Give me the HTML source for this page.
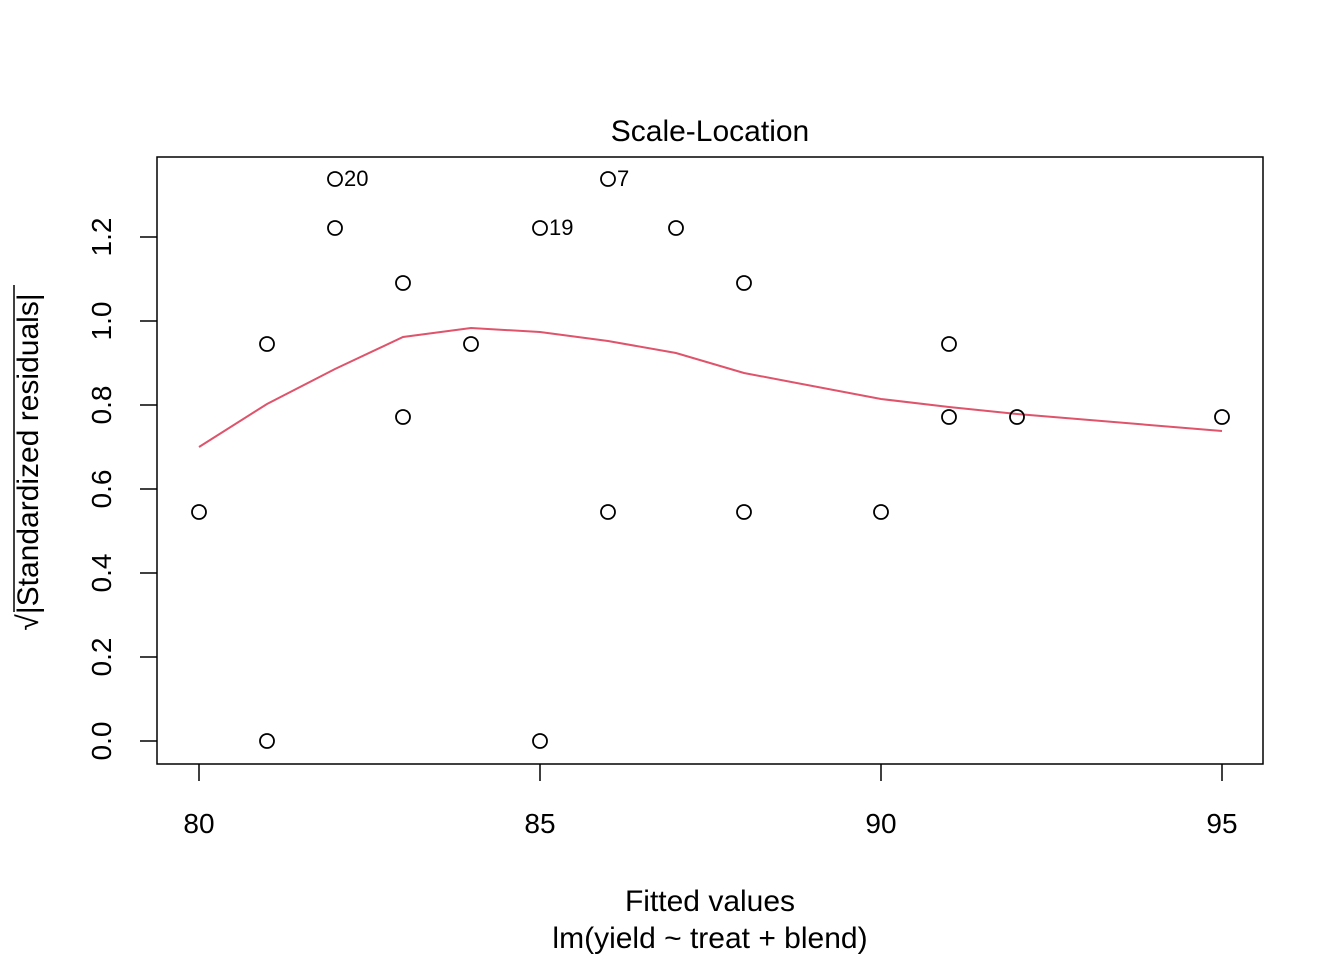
<!DOCTYPE html>
<html><head><meta charset="utf-8"><style>
html,body{margin:0;padding:0;background:#fff;}
svg{display:block;font-family:"Liberation Sans",Arial,sans-serif;}
</style></head><body>
<svg width="1344" height="960" viewBox="0 0 1344 960" xmlns="http://www.w3.org/2000/svg">
<rect x="157" y="157" width="1106" height="607" fill="none" stroke="#000" stroke-width="1.5"/>
<text x="710" y="141" font-size="30" text-anchor="middle">Scale-Location</text>
<g stroke="#000" stroke-width="1.5">
<line x1="199" y1="764" x2="199" y2="781"/>
<line x1="540" y1="764" x2="540" y2="781"/>
<line x1="881" y1="764" x2="881" y2="781"/>
<line x1="1222" y1="764" x2="1222" y2="781"/>
<line x1="157" y1="741" x2="140" y2="741"/>
<line x1="157" y1="657" x2="140" y2="657"/>
<line x1="157" y1="573" x2="140" y2="573"/>
<line x1="157" y1="489" x2="140" y2="489"/>
<line x1="157" y1="405" x2="140" y2="405"/>
<line x1="157" y1="321" x2="140" y2="321"/>
<line x1="157" y1="237" x2="140" y2="237"/>
</g>
<g font-size="28" text-anchor="middle">
<text x="199" y="833">80</text><text x="540" y="833">85</text><text x="881" y="833">90</text><text x="1222" y="833">95</text>
<text transform="translate(111,741) rotate(-90)">0.0</text>
<text transform="translate(111,657) rotate(-90)">0.2</text>
<text transform="translate(111,573) rotate(-90)">0.4</text>
<text transform="translate(111,489) rotate(-90)">0.6</text>
<text transform="translate(111,405) rotate(-90)">0.8</text>
<text transform="translate(111,321) rotate(-90)">1.0</text>
<text transform="translate(111,237) rotate(-90)">1.2</text>
<text x="710" y="911" font-size="30">Fitted values</text>
<text x="710" y="948" font-size="30">lm(yield ~ treat + blend)</text>
<text transform="translate(38,462) rotate(-90)" font-size="30">√|Standardized residuals|</text>
</g>
<line x1="14" y1="612" x2="14" y2="285" stroke="#000" stroke-width="1.5"/>
<polyline fill="none" stroke="#DF536B" stroke-width="2" points="199,447 267,404 335,369 403,337 471,328 540,332 608,341 676,353 744,373 881,399 949,407 1017,414 1222,431"/>
<g fill="none" stroke="#000" stroke-width="1.8">
<circle cx="199" cy="512" r="7"/><circle cx="267" cy="344" r="7"/><circle cx="267" cy="741" r="7"/>
<circle cx="335" cy="228" r="7"/><circle cx="335" cy="179" r="7"/><circle cx="403" cy="283" r="7"/>
<circle cx="403" cy="417" r="7"/><circle cx="471" cy="344" r="7"/><circle cx="540" cy="228" r="7"/>
<circle cx="540" cy="741" r="7"/><circle cx="608" cy="179" r="7"/><circle cx="608" cy="512" r="7"/>
<circle cx="676" cy="228" r="7"/><circle cx="744" cy="283" r="7"/><circle cx="744" cy="512" r="7"/>
<circle cx="881" cy="512" r="7"/><circle cx="949" cy="344" r="7"/><circle cx="949" cy="417" r="7"/>
<circle cx="1017" cy="417" r="7"/><circle cx="1222" cy="417" r="7"/>
</g>
<g font-size="22">
<text x="344" y="186">20</text><text x="617" y="186">7</text><text x="549" y="235">19</text>
</g>
</svg>
</body></html>
